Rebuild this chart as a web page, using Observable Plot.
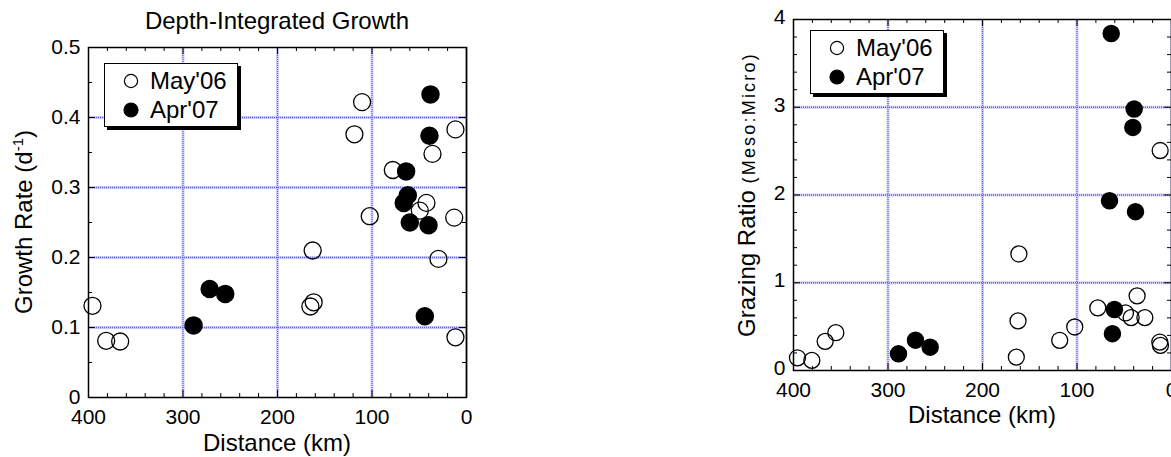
<!DOCTYPE html>
<html><head><meta charset="utf-8">
<script src="https://cdn.jsdelivr.net/npm/d3@7"></script>
<script src="https://cdn.jsdelivr.net/npm/@observablehq/plot@0.6"></script>
<style>
html,body{margin:0;padding:0;background:#fff;overflow:hidden;}
#wrap{position:relative;width:1171px;height:457px;overflow:hidden;font-family:"Liberation Sans",Arial,sans-serif;}
.panel{position:absolute;top:0;}
.legend{position:absolute;background:#fff;border:1.5px solid #000;box-shadow:3px 3px 0 #000;box-sizing:border-box;}
.legend .row{position:absolute;left:0;height:28px;display:flex;align-items:center;font-size:24px;color:#000;white-space:nowrap;}
.legend svg{margin-left:18px;margin-right:11px;}
</style></head><body><div id="wrap"></div>
<script>
// ---- data ----
const seriesNames = ["May'06", "Apr'07"];
const xTickLabels = [400, 300, 200, 100, 0];
const growthTickLabels = [0, 0.1, 0.2, 0.3, 0.4, 0.5];
const ratioTickLabels = [0, 1, 2, 3, 4];

// Depth-integrated growth (d^-1) vs distance (km)
const mayGrowthKm  = [395.8, 381.3, 366.5, 165.2, 161.7, 162.8, 118.6, 110.5, 102.4, 78.0, 49.4, 42.4, 36.0, 29.7, 13.0, 11.7, 11.7];
const mayGrowthVal = [0.131, 0.081, 0.080, 0.130, 0.136, 0.210, 0.376, 0.422, 0.259, 0.325, 0.267, 0.278, 0.348, 0.198, 0.257, 0.383, 0.086];
const aprGrowthKm  = [288.8, 271.8, 255.3, 66.4, 63.9, 62.1, 60.0, 44.1, 40.2, 39.2, 38.1];
const aprGrowthVal = [0.103, 0.155, 0.148, 0.278, 0.323, 0.289, 0.250, 0.116, 0.246, 0.374, 0.433];

// Grazing ratio (Meso:Micro) vs distance (km)
const mayRatioKm  = [395.8, 380.6, 366.5, 355.2, 164.2, 162.4, 161.5, 118.3, 102.4, 78.0, 48.7, 42.7, 36.4, 28.2, 12.4, 11.7, 12.0];
const mayRatioVal = [0.145, 0.115, 0.332, 0.431, 0.153, 0.565, 1.328, 0.344, 0.496, 0.714, 0.656, 0.603, 0.851, 0.603, 0.324, 0.286, 2.507];
const aprRatioKm  = [288.9, 270.9, 255.4, 65.6, 63.8, 62.5, 60.4, 40.9, 39.5, 38.1];
const aprRatioVal = [0.19, 0.346, 0.266, 1.935, 3.84, 0.42, 0.695, 2.77, 2.98, 1.81];

const toRows = (xs, ys) => xs.map((x, i) => ({x, y: ys[i]}));

const gridHalo = "#d2d2f6";
const gridDot = "#6464e2";
const font = '"Liberation Sans", Arial, sans-serif';

function panel({width, height, margin, yDomain, yTicks, yMinorStep, yFormat, may, apr, r, yDy}) {
  const fh = height - margin.top - margin.bottom;
  const fw = width - margin.left - margin.right;
  const xMinor = d3.range(0, 401, 20).filter(v => !xTickLabels.includes(v));
  const yMinor = d3.range(yDomain[0], yDomain[1] + 1e-9, yMinorStep).map(v => +v.toFixed(4)).filter(v => !yTicks.some(t => Math.abs(t - v) < 1e-9));
  const maj = 7, mnr = 4;
  const gx = xTickLabels.filter(v => v !== 400);
  const gy = yTicks.filter(v => v !== yDomain[0] && v !== yDomain[1]);
  return Plot.plot({
    width, height,
    marginTop: margin.top, marginRight: margin.right, marginBottom: margin.bottom, marginLeft: margin.left,
    style: {fontFamily: font, fontSize: "21px", color: "#000", background: "transparent", overflow: "visible"},
    x: {domain: [400, 0]},
    y: {domain: yDomain},
    marks: [
      Plot.ruleX(gx, {x: d => d, stroke: gridHalo, strokeWidth: 3}),
      Plot.ruleY(gy, {y: d => d, stroke: gridHalo, strokeWidth: 3}),
      Plot.ruleX(gx, {x: d => d, stroke: gridDot, strokeWidth: 1.3, strokeDasharray: "1,1"}),
      Plot.ruleY(gy, {y: d => d, stroke: gridDot, strokeWidth: 1.3, strokeDasharray: "1,1"}),
      // inward tick marks on all four sides
      Plot.ruleX(xMinor, {insetTop: fh - mnr, stroke: "#000"}),
      Plot.ruleX(xMinor, {insetBottom: fh - mnr, stroke: "#000"}),
      Plot.ruleX(xTickLabels, {insetTop: fh - maj, stroke: "#000"}),
      Plot.ruleX(xTickLabels, {insetBottom: fh - maj, stroke: "#000"}),
      Plot.ruleY(yMinor, {insetRight: fw - mnr, stroke: "#000"}),
      Plot.ruleY(yMinor, {insetLeft: fw - mnr, stroke: "#000"}),
      Plot.ruleY(yTicks, {insetRight: fw - maj, stroke: "#000"}),
      Plot.ruleY(yTicks, {insetLeft: fw - maj, stroke: "#000"}),
      Plot.frame({stroke: "#000", strokeWidth: 1.5}),
      Plot.axisX({ticks: xTickLabels, tickSize: 0, tickPadding: 12, fontSize: 21, label: null, tickFormat: d => String(d)}),
      Plot.axisY({ticks: yTicks, tickSize: 0, tickPadding: 8, fontSize: 21, label: null, tickFormat: yFormat, dy: yDy}),
      Plot.dot(may, {x: "x", y: "y", r, stroke: "#000", strokeWidth: 1.3, fill: "none"}),
      Plot.dot(apr, {x: "x", y: "y", r, fill: "#000", stroke: "#000"})
    ]
  });
}

const wrap = document.getElementById("wrap");

// ---- left panel ----
const m1 = {top: 47, right: 14, bottom: 60, left: 88};
const p1 = panel({
  width: 480, height: 457, margin: m1,
  yDomain: [0, 0.5], yTicks: growthTickLabels, yMinorStep: 0.05,
  yFormat: d => d === 0 ? "0" : d3.format(".1f")(d),
  may: toRows(mayGrowthKm, mayGrowthVal), apr: toRows(aprGrowthKm, aprGrowthVal), r: 8.5, yDy: 0
});
p1.classList.add("panel"); p1.style.left = "0px";
wrap.appendChild(p1);
{
  const s = d3.select(p1);
  const cx = (m1.left + 480 - m1.right) / 2, cy = (m1.top + 457 - m1.bottom) / 2;
  s.append("text").attr("x", cx).attr("y", 29).attr("text-anchor", "middle")
    .attr("font-size", 24).attr("fill", "#000").text("Depth-Integrated Growth");
  s.append("text").attr("x", cx).attr("y", 451).attr("text-anchor", "middle")
    .attr("font-size", 24).attr("fill", "#000").text("Distance (km)");
  const t = s.append("text").attr("transform", `translate(32,${cy}) rotate(-90)`)
    .attr("text-anchor", "middle").attr("font-size", 24).attr("fill", "#000");
  t.append("tspan").text("Growth Rate (d");
  t.append("tspan").attr("font-size", 15).attr("dy", -9).text("-1");
  t.append("tspan").attr("dy", 9).text(")");
}

// ---- right panel ----
const m2 = {top: 19, right: 30, bottom: 87, left: 113};
const p2 = panel({
  width: 521, height: 457, margin: m2,
  yDomain: [0, 4], yTicks: ratioTickLabels, yMinorStep: 0.2,
  yFormat: d => String(d),
  may: toRows(mayRatioKm, mayRatioVal), apr: toRows(aprRatioKm, aprRatioVal), r: 8, yDy: -2
});
p2.classList.add("panel"); p2.style.left = "680px";
wrap.appendChild(p2);
{
  const s = d3.select(p2);
  const cx = (m2.left + 521 - m2.right) / 2, cy = (m2.top + 457 - m2.bottom) / 2;
  s.append("text").attr("x", cx).attr("y", 423).attr("text-anchor", "middle")
    .attr("font-size", 24).attr("fill", "#000").text("Distance (km)");
  const t = s.append("text").attr("transform", `translate(75,${cy}) rotate(-90)`)
    .attr("text-anchor", "middle").attr("fill", "#000");
  t.append("tspan").attr("font-size", 24).text("Grazing Ratio ");
  t.append("tspan").attr("font-size", 18).attr("letter-spacing", 2.2).text("(Meso:Micro)");
}

// ---- legends ----
function legend(left, top) {
  const box = document.createElement("div");
  box.className = "legend";
  Object.assign(box.style, {left: left + "px", top: top + "px", width: "134px", height: "64px"});
  seriesNames.forEach((name, i) => {
    const row = document.createElement("div");
    row.className = "row";
    row.style.top = (3 + i * 29) + "px";
    const filled = i === 1;
    row.innerHTML = `<svg width="16" height="16"><circle cx="8" cy="8" r="${filled ? 7 : 6.6}" fill="${filled ? "#000" : "none"}" stroke="#000" stroke-width="1.2"/></svg><span>${name}</span>`;
    box.appendChild(row);
  });
  wrap.appendChild(box);
}
legend(104, 63);
legend(810, 30);
</script>
</body></html>
